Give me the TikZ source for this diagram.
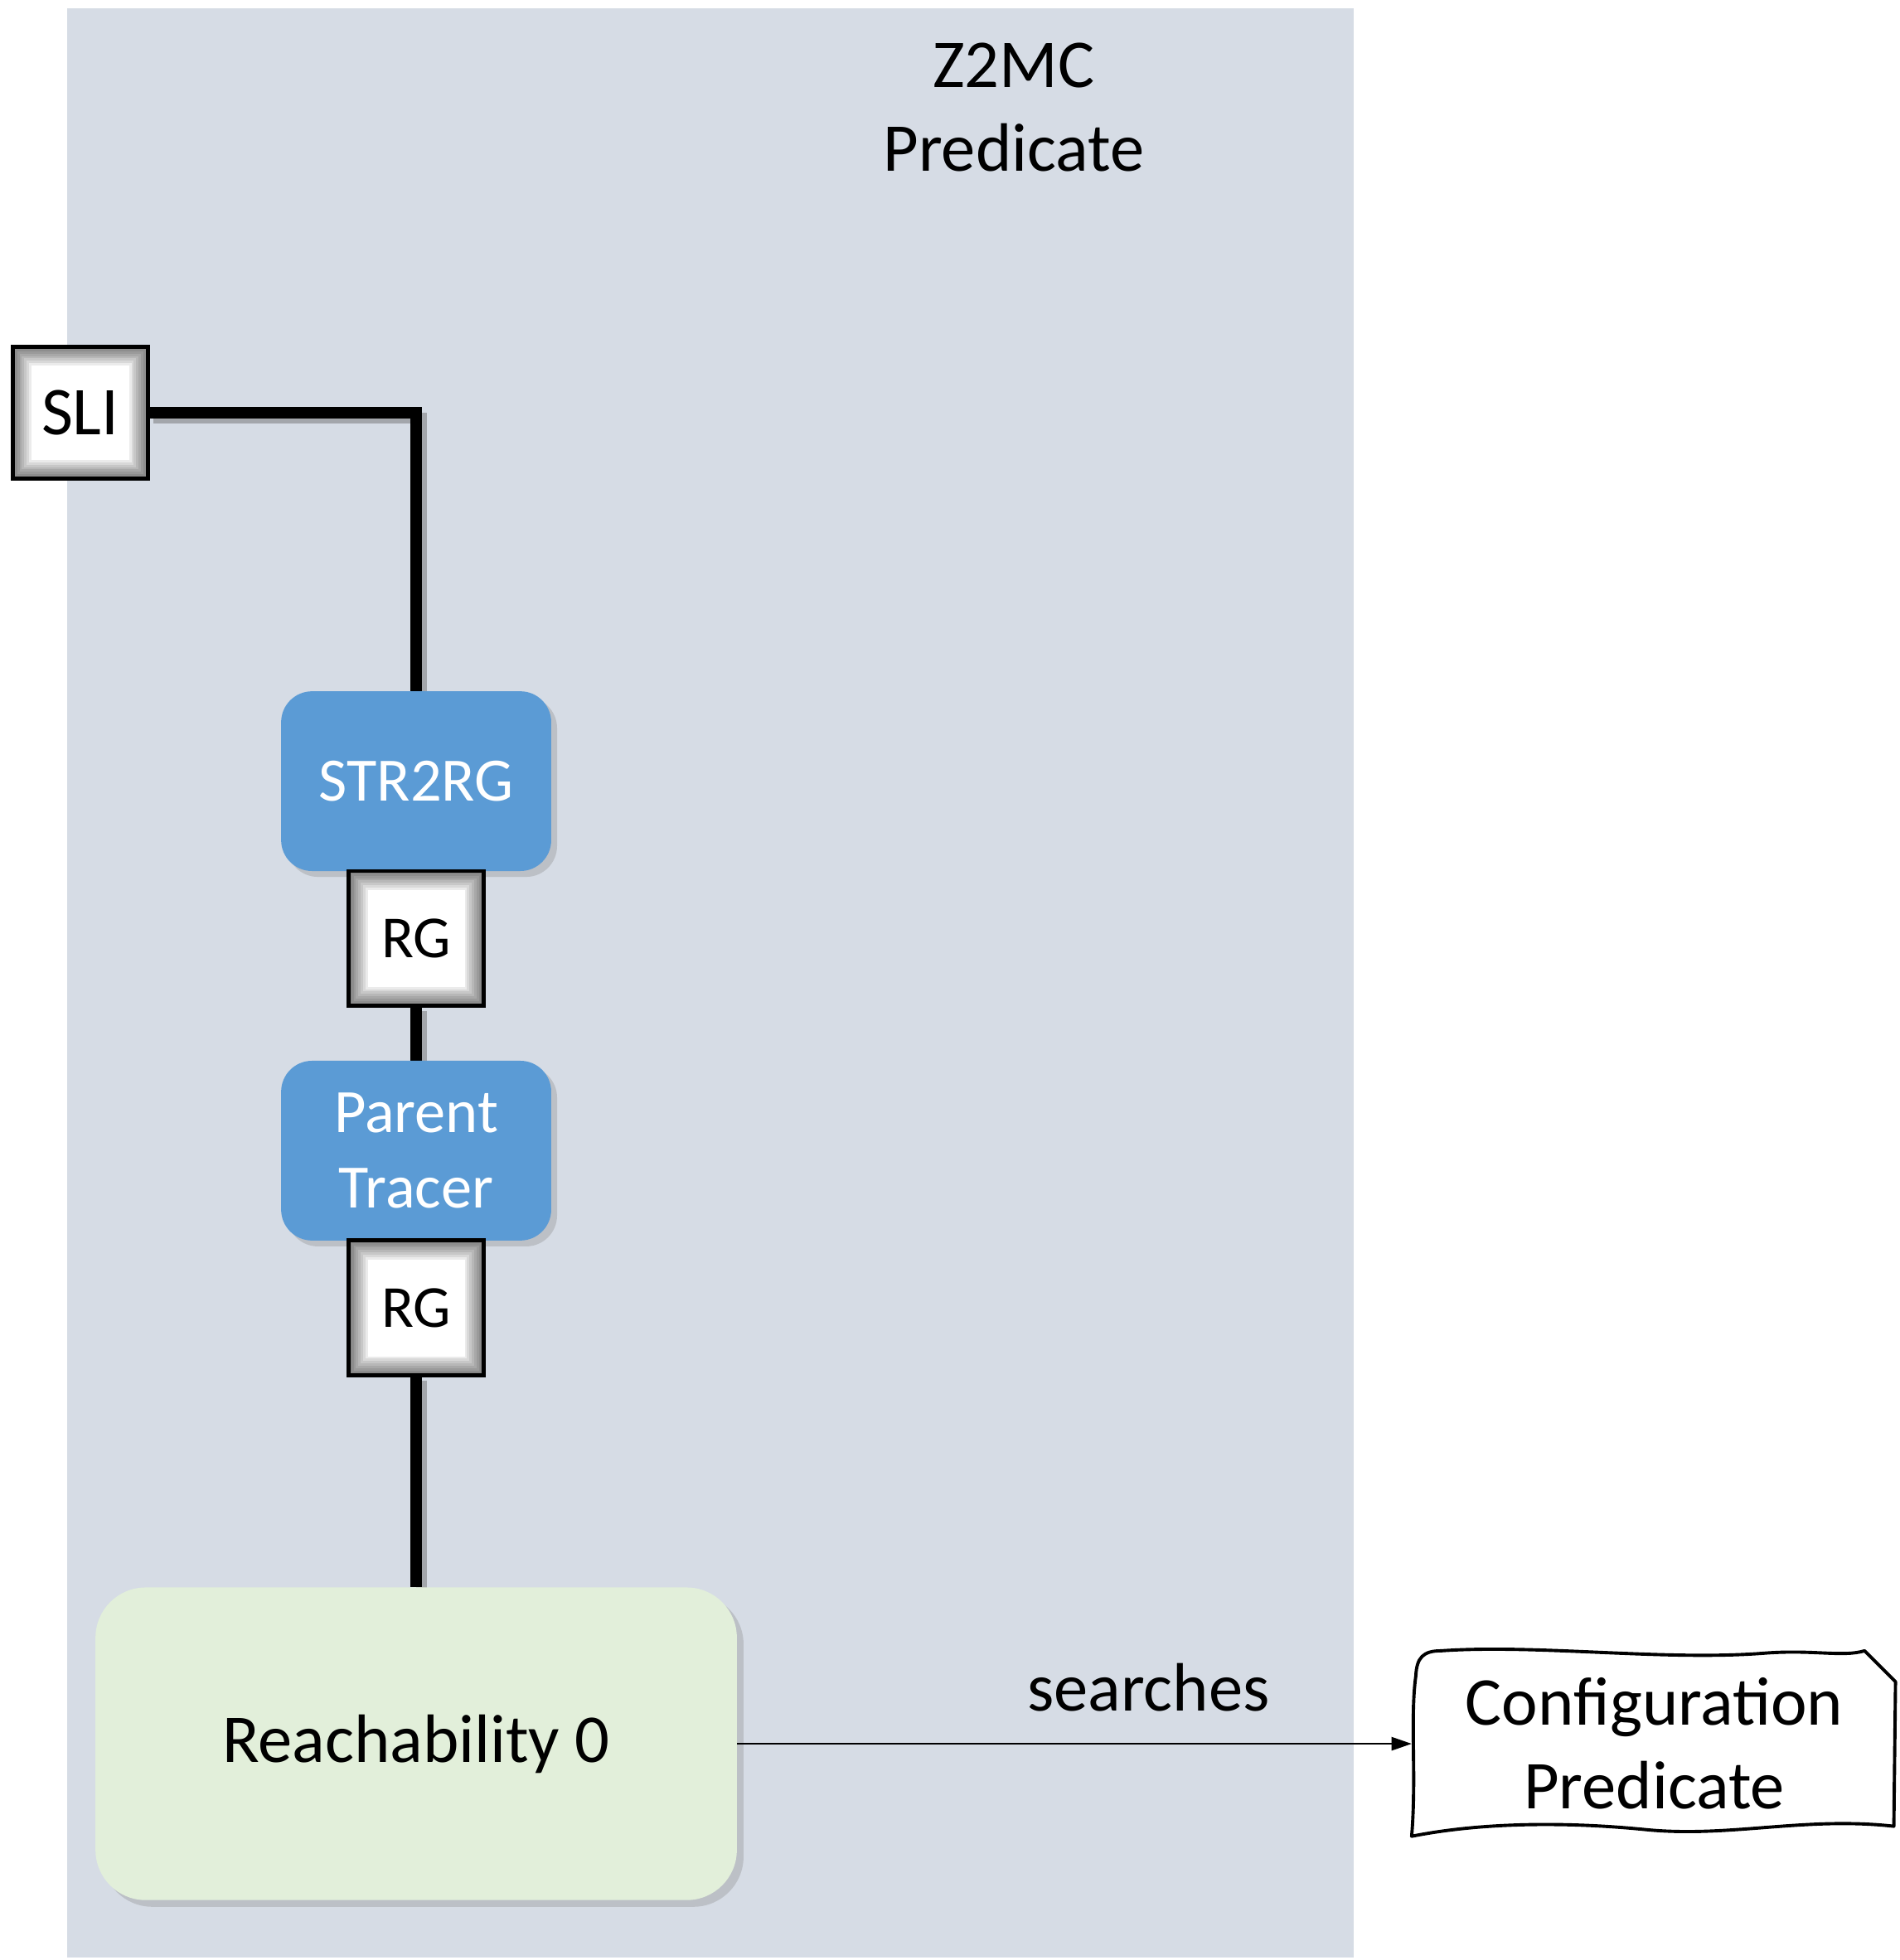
\documentclass[tikz,border=0pt]{standalone}
\usepackage{fontspec}
\setmainfont{Carlito}
\usetikzlibrary{positioning,shadows,arrows.meta,backgrounds}

\definecolor{panelgray}{HTML}{D6DCE5}
\definecolor{unitblue}{HTML}{5B9BD5}
\definecolor{reachgreen}{HTML}{E2EFDA}

\begin{document}
\begin{tikzpicture}[x=0.01cm,y=-0.01cm,
    big/.style={font=\fontsize{23.3}{28.5}\selectfont},
    unitbox/.style={fill=unitblue,rounded corners=0.37cm,minimum width=3.23cm,minimum height=2.15cm,
      inner sep=0pt,outer sep=0pt,text=white,align=center,font=\fontsize{21}{25.5}\selectfont,
      drop shadow={shadow xshift=0.07cm,shadow yshift=-0.07cm,opacity=0.3}},
    port/.style={draw,line width=1.4pt,fill=white,minimum width=1.61cm,minimum height=1.61cm,
      inner sep=0pt,outer sep=0pt,font=\fontsize{20.3}{25}\selectfont,
      path picture={\foreach \w in {1,...,8}{
        \draw[black,opacity=0.08,line width=1.6*\w pt] (path picture bounding box.south west)
          rectangle (path picture bounding box.north east);}}},
    wire/.style={line width=3.7pt,
      preaction={draw=black!60,opacity=0.45,line width=3.7pt,transform canvas={shift={(1.8pt,-1.8pt)}}}},
    flow/.style={-{Triangle[length=0.24cm,width=0.16cm]},line width=0.6pt},
    node distance=0pt]
    \useasboundingbox (0,0) rectangle (2273,2346);

    % title of the panel
    \node [big,align=center] (title) at (1213,128) {Z2MC\\Predicate};

    % the chain of units
    \node [unitbox] (str) at (498,935) {STR2RG};
    \node [port,below=of str] (rg1) {RG};
    \node [unitbox,below=0.66cm of rg1] (pt) {Parent\\Tracer};
    \node [port,below=of pt] (rg2) {RG};
    \node [below=2.54cm of rg2,fill=reachgreen,rounded corners=0.6cm,minimum width=7.67cm,minimum height=3.74cm,
      inner sep=0pt,outer sep=0pt,big,drop shadow={shadow xshift=0.08cm,shadow yshift=-0.08cm,opacity=0.3}] (reach) {Reachability 0};

    \node [port,minimum width=1.62cm,minimum height=1.58cm,big] (sli) at (96,494) {SLI};

    % what it searches
    \node [right=8.07cm of reach,minimum width=5.79cm,minimum height=2.21cm,inner sep=0pt,align=center,
      font=\fontsize{23.3}{28.5}\selectfont] (cp) {Configuration\\Predicate};
    \begin{scope}[shift={(cp.north west)}]
      \draw [line width=1.1pt,line join=round] (5,30) .. controls (6,8) and (14,0) .. (35,0)
        .. controls (150,-8) and (300,12) .. (420,3) .. controls (480,-2) and (515,8) .. (542,0)
        -- (579,37) -- (577,210) .. controls (470,198) and (380,224) .. (280,214)
        .. controls (180,204) and (80,206) .. (0,222) .. controls (6,150) and (-2,80) .. (5,30) -- cycle;
    \end{scope}

    \draw [flow] (reach.east) -- node [pos=0.61,above=0.26cm,big] (lbl) {searches} (cp.west);

    \begin{scope}[on background layer]
      \fill [panelgray] (80,10) rectangle (1620,2343);
      \draw [wire] (sli.east) -| (str.north);
      \draw [wire] (rg1.south) -- (pt.north);
      \draw [wire] (rg2.south) -- (reach.north);
    \end{scope}
\end{tikzpicture}
\end{document}
